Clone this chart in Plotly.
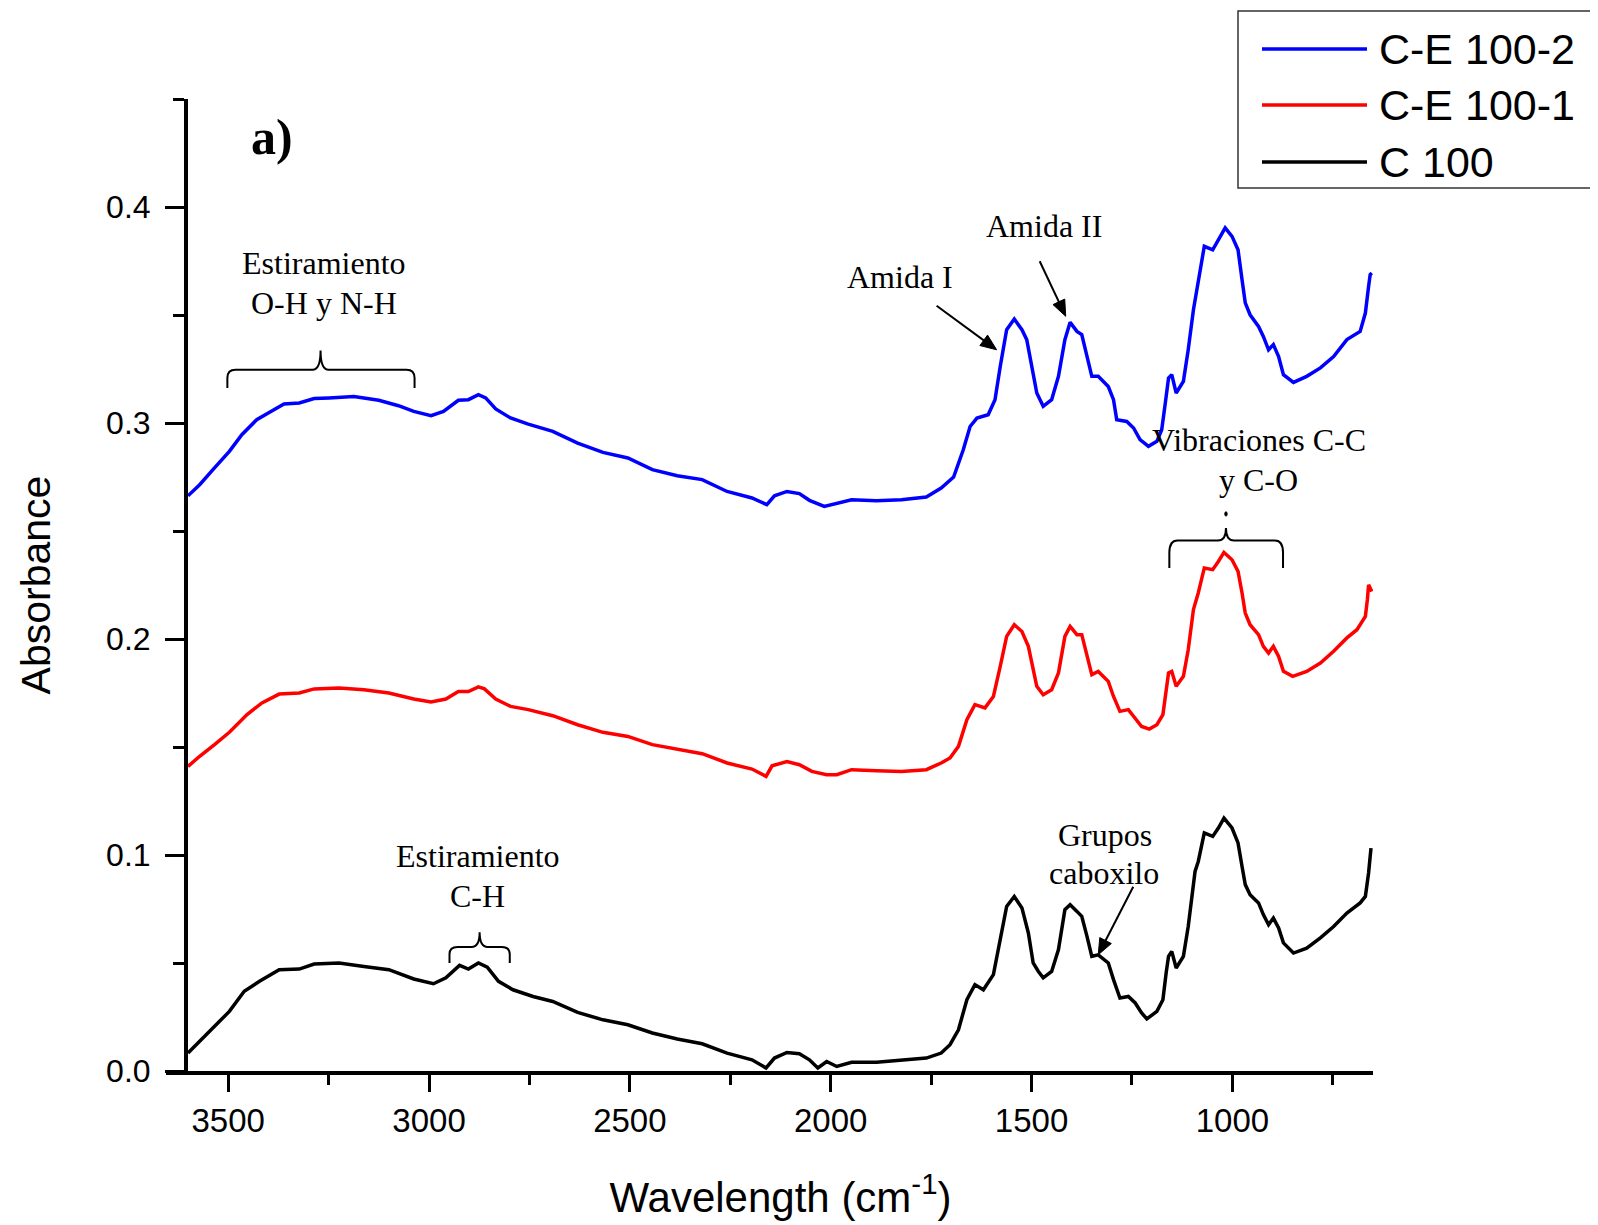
import math
import plotly.graph_objects as go

# ---------------- data ----------------
series_names = ["C-E 100-2", "C-E 100-1", "C 100"]
series_colors = ["#0000FF", "#FF0000", "#000000"]

wn_ce2 = [3600, 3571, 3534, 3497, 3466, 3429, 3398, 3361, 3323, 3286, 3249, 3187, 3125, 3076, 3038,
          2995, 2964, 2927, 2902, 2877, 2859, 2834, 2797, 2753, 2692, 2630, 2567, 2505, 2444, 2382,
          2320, 2258, 2196, 2159, 2140, 2109, 2078, 2053, 2016, 1985, 1948, 1886, 1824, 1762, 1725,
          1694, 1670, 1653, 1636, 1608, 1591, 1578, 1562, 1543, 1524, 1512, 1500, 1487, 1471, 1450,
          1433, 1417, 1404, 1387, 1375, 1362, 1350, 1334, 1309, 1296, 1288, 1263, 1246, 1230, 1209,
          1188, 1176, 1167, 1159, 1151, 1140, 1122, 1110, 1097, 1086, 1070, 1049, 1035, 1018, 1001,
          986, 976, 968, 956, 935, 923, 910, 898, 885, 873, 848, 815, 781, 748, 715, 682, 669, 661,
          657, 653]
abs_ce2 = [0.2663, 0.2714, 0.2792, 0.2869, 0.2946, 0.3015, 0.3049, 0.3088, 0.3093, 0.3113, 0.3116,
           0.3123, 0.3105, 0.3080, 0.3054, 0.3034, 0.3054, 0.3105, 0.3108, 0.3131, 0.3116, 0.3065,
           0.3023, 0.2995, 0.2961, 0.2907, 0.2864, 0.2838, 0.2784, 0.2756, 0.2738, 0.2683, 0.2653,
           0.2622, 0.2663, 0.2683, 0.2673, 0.2642, 0.2614, 0.2630, 0.2645, 0.2640, 0.2645, 0.2657,
           0.2699, 0.2750, 0.2876, 0.2984, 0.3023, 0.3038, 0.3108, 0.3262, 0.3432, 0.3481, 0.3432,
           0.3386, 0.3262, 0.3139, 0.3077, 0.3108, 0.3216, 0.3386, 0.3466, 0.3424, 0.3409, 0.3308,
           0.3216, 0.3216, 0.3169, 0.3108, 0.3015, 0.3007, 0.2977, 0.2923, 0.2892, 0.2915, 0.2969,
           0.3093, 0.3208, 0.3224, 0.3139, 0.3193, 0.3339, 0.3524, 0.3648, 0.3818, 0.3802, 0.3849,
           0.3903, 0.3864, 0.3802, 0.3663, 0.3556, 0.3501, 0.3447, 0.3401, 0.3339, 0.3363, 0.3308,
           0.3224, 0.3188, 0.3216, 0.3255, 0.3308, 0.3386, 0.3424, 0.3509, 0.3632, 0.3687, 0.3694]

wn_ce1 = [3600, 3571, 3534, 3497, 3453, 3416, 3373, 3323, 3286, 3224, 3162, 3100, 3038, 2995, 2958,
          2927, 2902, 2877, 2862, 2834, 2797, 2753, 2692, 2630, 2567, 2505, 2444, 2382, 2320, 2258,
          2196, 2161, 2146, 2109, 2078, 2047, 2010, 1985, 1948, 1886, 1824, 1762, 1725, 1703, 1682,
          1661, 1641, 1616, 1595, 1578, 1562, 1543, 1524, 1508, 1496, 1487, 1471, 1450, 1433, 1417,
          1404, 1387, 1375, 1362, 1350, 1334, 1309, 1296, 1280, 1259, 1242, 1226, 1207, 1188, 1173,
          1165, 1159, 1151, 1140, 1122, 1110, 1097, 1085, 1070, 1049, 1035, 1021, 1001, 986, 976,
          968, 956, 935, 923, 910, 898, 885, 873, 850, 815, 781, 748, 715, 690, 669, 664, 661, 653]
abs_ce1 = [0.1410, 0.1457, 0.1511, 0.1568, 0.1650, 0.1704, 0.1745, 0.1750, 0.1769, 0.1773, 0.1765,
           0.1750, 0.1722, 0.1708, 0.1722, 0.1757, 0.1757, 0.1778, 0.1769, 0.1722, 0.1688, 0.1673,
           0.1645, 0.1603, 0.1568, 0.1549, 0.1511, 0.1488, 0.1469, 0.1426, 0.1398, 0.1364, 0.1413,
           0.1433, 0.1418, 0.1387, 0.1372, 0.1372, 0.1395, 0.1390, 0.1387, 0.1395, 0.1426, 0.1449,
           0.1503, 0.1626, 0.1696, 0.1681, 0.1734, 0.1873, 0.2012, 0.2066, 0.2035, 0.1966, 0.1858,
           0.1781, 0.1742, 0.1765, 0.1843, 0.2012, 0.2058, 0.2020, 0.2020, 0.1919, 0.1835, 0.1850,
           0.1804, 0.1734, 0.1665, 0.1673, 0.1634, 0.1595, 0.1583, 0.1603, 0.1650, 0.1765, 0.1843,
           0.1850, 0.1781, 0.1827, 0.1950, 0.2136, 0.2213, 0.2329, 0.2321, 0.2359, 0.2401, 0.2367,
           0.2313, 0.2213, 0.2120, 0.2066, 0.2020, 0.1966, 0.1935, 0.1966, 0.1919, 0.1850, 0.1827,
           0.1850, 0.1889, 0.1943, 0.2005, 0.2043, 0.2105, 0.2182, 0.2251, 0.2220]

wn_c100 = [3600, 3571, 3534, 3497, 3460, 3422, 3373, 3323, 3286, 3224, 3162, 3100, 3038, 2989, 2958,
           2924, 2902, 2877, 2855, 2827, 2791, 2741, 2692, 2630, 2567, 2505, 2444, 2382, 2320, 2258,
           2196, 2161, 2140, 2109, 2078, 2053, 2032, 2010, 1985, 1948, 1886, 1824, 1762, 1725, 1703,
           1682, 1661, 1641, 1620, 1595, 1578, 1562, 1543, 1524, 1508, 1496, 1483, 1471, 1450, 1433,
           1417, 1404, 1387, 1375, 1362, 1350, 1334, 1309, 1296, 1280, 1259, 1242, 1226, 1213, 1188,
           1173, 1165, 1159, 1151, 1140, 1122, 1110, 1093, 1085, 1070, 1049, 1035, 1021, 1001, 986,
           976, 968, 956, 935, 923, 910, 898, 885, 873, 848, 815, 781, 748, 715, 682, 669, 661, 655]
abs_c100 = [0.0083, 0.0137, 0.0207, 0.0276, 0.0369, 0.0415, 0.0469, 0.0472, 0.0495, 0.0500, 0.0484,
            0.0469, 0.0426, 0.0404, 0.0431, 0.0489, 0.0472, 0.0500, 0.0481, 0.0415, 0.0376, 0.0345,
            0.0322, 0.0271, 0.0237, 0.0214, 0.0176, 0.0148, 0.0126, 0.0083, 0.0052, 0.0014, 0.0060,
            0.0086, 0.0080, 0.0052, 0.0014, 0.0044, 0.0021, 0.0040, 0.0040, 0.0049, 0.0060, 0.0083,
            0.0122, 0.0191, 0.0330, 0.0400, 0.0376, 0.0446, 0.0608, 0.0762, 0.0808, 0.0755, 0.0639,
            0.0500, 0.0461, 0.0431, 0.0461, 0.0562, 0.0747, 0.0770, 0.0739, 0.0716, 0.0623, 0.0531,
            0.0538, 0.0500, 0.0423, 0.0338, 0.0345, 0.0315, 0.0269, 0.0241, 0.0276, 0.0330, 0.0454,
            0.0531, 0.0554, 0.0477, 0.0531, 0.0669, 0.0924, 0.0970, 0.1102, 0.1086, 0.1125, 0.1171,
            0.1125, 0.1056, 0.0947, 0.0863, 0.0816, 0.0778, 0.0724, 0.0677, 0.0708, 0.0662, 0.0593,
            0.0546, 0.0569, 0.0616, 0.0669, 0.0731, 0.0778, 0.0808, 0.0917, 0.1032]

x_tickvals = [3500, 3000, 2500, 2000, 1500, 1000]
y_tickvals = [0.0, 0.1, 0.2, 0.3, 0.4]

# annotation labels: (text, wavenumber, absorbance)
label_texts = ["Estiramiento", "O-H y N-H", "Amida I", "Amida II", "Vibraciones C-C", "y C-O",
               "Estiramiento", "C-H", "Grupos", "caboxilo"]
label_wn = [3262, 3262, 1828, 1468, 935, 935, 2879, 2879, 1317, 1319]
label_abs = [0.3742, 0.3557, 0.3677, 0.3911, 0.2923, 0.2738, 0.0997, 0.0812, 0.1094, 0.0918]

# arrows: tip (wavenumber, absorbance) and tail offset from the tip in screen pixels
arrow_wn = [1587, 1415, 1334]
arrow_abs = [0.3339, 0.3494, 0.0538]
arrow_ax = [-60, -26, 35]
arrow_ay = [-44, -55, -68]

# braces: left wn, right wn, centre wn, bar level, end level, tip level
brace_left = [3502, 1157, 2949]
brace_right = [3036, 874, 2799]
brace_center = [3270, 1016, 2874]
brace_bar = [0.3247, 0.2456, 0.0574]
brace_end = [0.3162, 0.2329, 0.0500]
brace_tip = [0.3336, 0.2514, 0.0642]

# ---------------- figure ----------------
W, H = 1598, 1225
OFF = 8  # page body margin of the html page
L, T = 188 - OFF, 99 - OFF
PW, PH = 1185, 972
R, B = W - L - PW, H - T - PH


def px(xp):
    """page pixel x -> paper x"""
    return (xp - OFF - L) / PW


def py(yp):
    """page pixel y -> paper y"""
    return (T + PH - (yp - OFF)) / PH


fig = go.Figure()
for name, color, xs, ys in zip(series_names, series_colors,
                               [wn_ce2, wn_ce1, wn_c100], [abs_ce2, abs_ce1, abs_c100]):
    fig.add_trace(go.Scatter(x=xs, y=ys, mode="lines", name=name,
                             line=dict(color=color, width=3.5), showlegend=False))

sans = "Arial, 'Liberation Sans', sans-serif"
serif = "'Times New Roman', 'Liberation Serif', serif"

shapes = []
annotations = []

# text labels
for txt, xw, ya in zip(label_texts, label_wn, label_abs):
    annotations.append(dict(x=xw, y=ya, xref="x", yref="y", text=txt, showarrow=False,
                            font=dict(family=serif, size=32, color="black"),
                            xanchor="center", yanchor="middle"))

# arrows drawn as pixel-sized shapes anchored at their tips
for xw, ya, ax, ay in zip(arrow_wn, arrow_abs, arrow_ax, arrow_ay):
    ln = math.hypot(ax, ay)
    ux, uy = -ax / ln, -ay / ln          # direction tail -> tip (screen, y down)
    hl, hw = 16, 6.5
    bx, by = -ux * hl, -uy * hl          # base of head relative to tip
    nx, ny = -uy, ux
    p1 = (bx + nx * hw, by + ny * hw)
    p2 = (bx - nx * hw, by - ny * hw)
    shapes.append(dict(type="path", xref="x", yref="y", xsizemode="pixel", ysizemode="pixel",
                       xanchor=xw, yanchor=ya,
                       path=f"M {ax},{-ay} L {bx * 0.6:.2f},{-by * 0.6:.2f}",
                       line=dict(color="black", width=2)))
    shapes.append(dict(type="path", xref="x", yref="y", xsizemode="pixel", ysizemode="pixel",
                       xanchor=xw, yanchor=ya,
                       path=(f"M 0,0 L {p1[0]:.2f},{-p1[1]:.2f} "
                             f"L {p2[0]:.2f},{-p2[1]:.2f} Z"),
                       fillcolor="black", line=dict(color="black", width=1)))

# braces
for xl, xr, xc, yb, ye, yt in zip(brace_left, brace_right, brace_center,
                                  brace_bar, brace_end, brace_tip):
    dx = 20.0
    dy = (yb - ye) * 0.45
    path = (f"M {xl},{ye} L {xl},{yb - dy} Q {xl},{yb} {xl - dx},{yb} "
            f"L {xc + dx},{yb} Q {xc},{yb} {xc},{yt} Q {xc},{yb} {xc - dx},{yb} "
            f"L {xr + dx},{yb} Q {xr},{yb} {xr},{yb - dy} L {xr},{ye}")
    shapes.append(dict(type="path", path=path, xref="x", yref="y",
                       line=dict(color="black", width=2)))

# small dot above the C-C brace
shapes.append(dict(type="circle", xref="x", yref="y",
                   x0=brace_center[1] + 3, x1=brace_center[1] - 3,
                   y0=brace_tip[1] + 0.0055, y1=brace_tip[1] + 0.0075,
                   fillcolor="black", line=dict(color="black", width=1)))

# panel label
annotations.append(dict(x=px(272), y=py(137), xref="paper", yref="paper", text="<b>a)</b>",
                        showarrow=False, font=dict(family=serif, size=50, color="black"),
                        xanchor="center", yanchor="middle"))

# x axis line extension to the left of the y axis (Origin style)
shapes.append(dict(type="line", xref="paper", yref="paper", x0=px(166), x1=px(188),
                   y0=py(1073), y1=py(1073), line=dict(color="black", width=4)))

# manual legend (long line samples as in the original)
shapes.append(dict(type="rect", xref="paper", yref="paper", x0=px(1238), x1=px(1610),
                   y0=py(188), y1=py(11), line=dict(color="#333333", width=1.5),
                   fillcolor="white", layer="above"))
legend_rows = [49, 105, 162]
for name, color, yr in zip(series_names, series_colors, legend_rows):
    shapes.append(dict(type="line", xref="paper", yref="paper", x0=px(1262), x1=px(1367),
                       y0=py(yr), y1=py(yr), line=dict(color=color, width=3.5)))
    annotations.append(dict(x=px(1377), y=py(yr), xref="paper", yref="paper", text=name,
                            showarrow=False, xanchor="left", yanchor="middle",
                            font=dict(family=sans, size=43, color="black")))

fig.update_layout(
    width=W, height=H,
    margin=dict(l=L, r=R, t=T, b=B, autoexpand=False),
    paper_bgcolor="white", plot_bgcolor="white",
    showlegend=False,
    shapes=shapes, annotations=annotations,
    xaxis=dict(range=[3600, 650], tickvals=x_tickvals, ticktext=[str(v) for v in x_tickvals],
               ticks="outside", ticklen=17, tickwidth=3, tickcolor="black",
               minor=dict(ticks="outside", ticklen=10, tickwidth=3, tickcolor="black",
                          dtick=250, tick0=0),
               showline=True, linewidth=4, linecolor="black", mirror=False,
               showgrid=False, zeroline=False,
               tickfont=dict(family=sans, size=33, color="black"),
               title=dict(text="Wavelength (cm<sup>-1</sup>)", standoff=46,
                          font=dict(family=sans, size=42, color="black"))),
    yaxis=dict(range=[0, 0.45], tickvals=y_tickvals, ticktext=[f"{v:.1f}" for v in y_tickvals],
               ticks="outside", ticklen=19, tickwidth=3, tickcolor="black",
               minor=dict(ticks="outside", ticklen=11, tickwidth=3, tickcolor="black",
                          dtick=0.05, tick0=0),
               showline=True, linewidth=4, linecolor="black", mirror=False,
               showgrid=False, zeroline=False, ticklabelstandoff=8,
               tickfont=dict(family=sans, size=32, color="black"),
               title=dict(text="Absorbance", standoff=44,
                          font=dict(family=sans, size=41, color="black"))),
)

fig.write_html("out.html")
